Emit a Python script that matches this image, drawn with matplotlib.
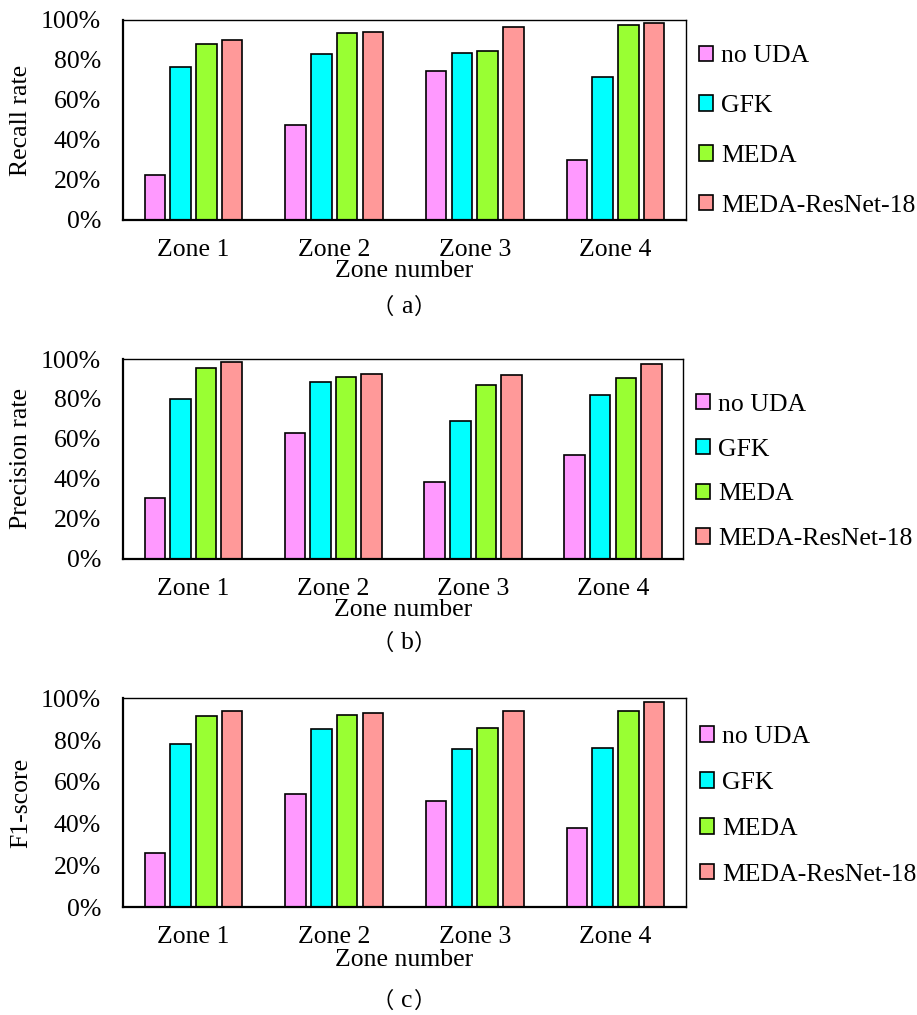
import matplotlib
matplotlib.use("Agg")
import matplotlib.pyplot as plt
import numpy as np
from matplotlib.ticker import PercentFormatter

plt.rcParams['font.family'] = ['Liberation Serif', 'Noto Sans CJK SC']

zones = ["Zone 1", "Zone 2", "Zone 3", "Zone 4"]
methods = ["no UDA", "GFK", "MEDA", "MEDA-ResNet-18"]
colors = ["#FF99FF", "#00FFFF", "#99FF33", "#FF9999"]

recall = {
    "no UDA": [22.5, 47.3, 74.3, 30.0],
    "GFK": [76.7, 83.0, 83.7, 71.3],
    "MEDA": [88.0, 93.3, 84.7, 97.7],
    "MEDA-ResNet-18": [90.0, 94.2, 96.7, 98.7],
}
precision = {
    "no UDA": [30.5, 62.8, 38.3, 51.7],
    "GFK": [79.8, 88.3, 69.2, 82.0],
    "MEDA": [95.7, 90.8, 87.0, 90.3],
    "MEDA-ResNet-18": [98.3, 92.3, 92.0, 97.7],
}
f1 = {
    "no UDA": [25.9, 54.0, 50.6, 38.0],
    "GFK": [78.3, 85.4, 75.9, 76.2],
    "MEDA": [91.7, 92.1, 85.8, 93.9],
    "MEDA-ResNet-18": [93.9, 93.1, 94.1, 98.1],
}
ylabels = ["Recall rate", "Precision rate", "F1-score"]
panel_letters = ["a", "b", "c"]
datasets = [recall, precision, f1]

W, H = 917, 1015
FS = 18.5
fig = plt.figure(figsize=(W / 100, H / 100), dpi=100)

# pixel boxes: left, top, right, bottom
boxes = [(123.3, 20, 685.7, 220), (123.3, 359, 683, 558.7), (123.3, 698.3, 685.7, 907)]
legend_pos = [(699, 131, 1.08), (696, 472, 0.89), (700, 806, 0.93)]
xlabel_y = [271, 610, 960]
tag_y = [307, 643, 1001]

def fx(px):
    return px / W

def fy(py):
    return 1 - py / H

x = np.arange(len(zones))
bw = 0.146
step = 0.183
for i, (data, box) in enumerate(zip(datasets, boxes)):
    l, t, r, b = box
    ax = fig.add_axes([fx(l), fy(b), (r - l) / W, (b - t) / H])
    for j, m in enumerate(methods):
        ax.bar(x + (j - 1.5) * step, np.array(data[m]) / 100.0, width=bw,
               color=colors[j], edgecolor="black", linewidth=1.2, label=m)
    ax.set_xlim(-0.5, 3.5)
    ax.set_ylim(0, 1)
    ax.set_yticks(np.arange(0, 1.01, 0.2))
    ax.yaxis.set_major_formatter(PercentFormatter(1.0, decimals=0))
    ax.set_xticks(x)
    ax.set_xticklabels(zones)
    ax.tick_params(axis="both", length=0, labelsize=FS)
    ax.tick_params(axis="y", pad=16)
    ax.tick_params(axis="x", pad=14)
    for s in ["left", "bottom"]:
        ax.spines[s].set_linewidth(1.6)
    for s in ["top", "right"]:
        ax.spines[s].set_linewidth(1.0)
    fig.text(fx(21), fy((t + b) / 2), ylabels[i], rotation=90, ha="center",
             va="center", fontsize=FS)
    fig.text(fx((l + r) / 2), fy(xlabel_y[i]), "Zone number", ha="center",
             va="center", fontsize=FS)
    # panel tag （a）
    ty = fy(tag_y[i])
    fig.text(fx(383), ty, "（", ha="center", va="center", fontsize=16,
             family=["Noto Sans CJK SC"])
    fig.text(fx(407), ty, panel_letters[i], ha="center", va="center",
             fontsize=FS)
    fig.text(fx(425), ty, "）", ha="center", va="center", fontsize=16,
             family=["Noto Sans CJK SC"])
    lx, ly, ls = legend_pos[i]
    fig.legend(*ax.get_legend_handles_labels(), loc="center left",
               bbox_to_anchor=(fx(lx), fy(ly)), frameon=False, fontsize=FS,
               handlelength=0.55, handleheight=0.55, handletextpad=0.3,
               labelspacing=ls, borderpad=0, borderaxespad=0)

fig.savefig("out.png", dpi=100)
